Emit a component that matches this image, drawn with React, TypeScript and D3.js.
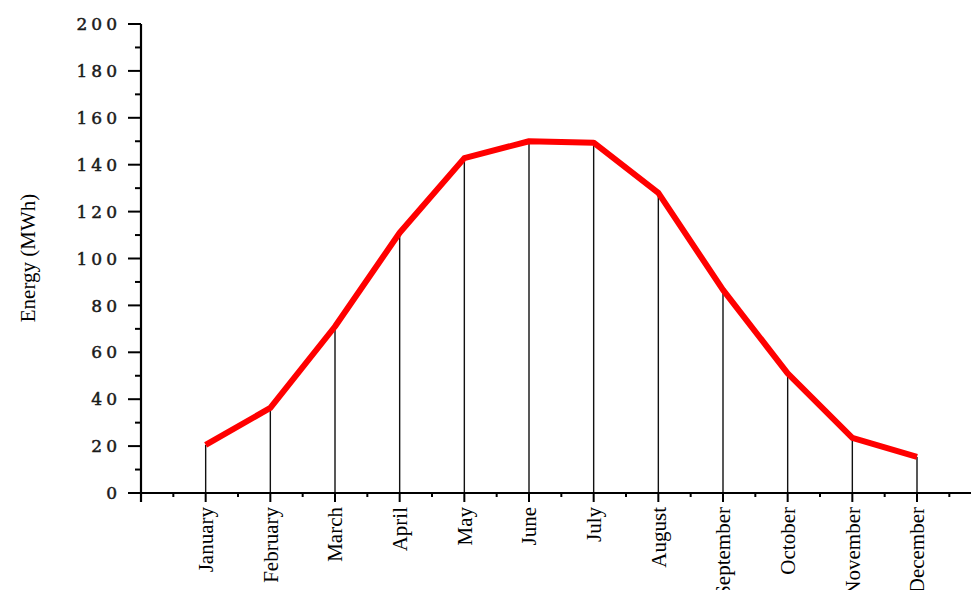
import React from "react";
import * as d3 from "d3";

const months = [
  "January", "February", "March", "April", "May", "June",
  "July", "August", "September", "October", "November", "December",
];
const energy = [20.5, 36.3, 71, 111, 142.8, 150, 149.4, 128, 86.6, 51, 23.5, 15.4];
const yMajorTicks = [0, 20, 40, 60, 80, 100, 120, 140, 160, 180, 200];
const yMinorTicks = [10, 30, 50, 70, 90, 110, 130, 150, 170, 190];

const W = 971;
const H = 590;
const axisX = 141;
const axisY = 493;

export default function App() {
  const x = d3.scaleLinear().domain([0, 12]).range([axisX, 917]);
  const y = d3.scaleLinear().domain([0, 200]).range([axisY, 24]);

  const line = d3
    .line<number>()
    .x((_, i) => x(i + 1))
    .y((d) => y(d));

  const xMajor = d3.range(0, 13);
  const xMinor = d3.range(0.5, 13, 1);

  return (
    <svg
      width={W}
      height={H}
      style={{ position: "absolute", left: 0, top: 0, background: "#fff" }}
    >
      {/* drop lines from each monthly value to the axis */}
      {energy.map((v, i) => (
        <line
          key={"drop" + i}
          x1={x(i + 1)}
          x2={x(i + 1)}
          y1={y(v)}
          y2={axisY}
          stroke="#111"
          strokeWidth={1.4}
        />
      ))}

      <path
        d={line(energy) || ""}
        fill="none"
        stroke="#ff0000"
        strokeWidth={6}
        strokeLinejoin="round"
      />

      {/* y axis */}
      <line x1={axisX} x2={axisX} y1={y(200)} y2={axisY + 9} stroke="#000" strokeWidth={2.2} />
      {yMajorTicks.map((t) => (
        <g key={"ym" + t}>
          <line x1={axisX - 13} x2={axisX} y1={y(t)} y2={y(t)} stroke="#000" strokeWidth={2} />
          <text
            x={axisX - 20}
            y={y(t)}
            dy="0.36em"
            textAnchor="end"
            fontFamily="'DejaVu Serif', serif"
            fontSize={17}
            letterSpacing={4}
            fill="#1a1a1a"
            stroke="#1a1a1a"
            strokeWidth={0.5}
          >
            {t}
          </text>
        </g>
      ))}
      {yMinorTicks.map((t) => (
        <line key={"yn" + t} x1={axisX - 6} x2={axisX} y1={y(t)} y2={y(t)} stroke="#000" strokeWidth={2} />
      ))}

      {/* x axis */}
      <line x1={axisX - 1} x2={W} y1={axisY} y2={axisY} stroke="#000" strokeWidth={2.2} />
      {xMajor.map((t) => (
        <line key={"xm" + t} x1={x(t)} x2={x(t)} y1={axisY} y2={axisY + 9} stroke="#000" strokeWidth={2} />
      ))}
      {xMinor.map((t) => (
        <line key={"xn" + t} x1={x(t)} x2={x(t)} y1={axisY} y2={axisY + 4} stroke="#000" strokeWidth={2} />
      ))}
      {months.map((m, i) => (
        <text
          key={m}
          transform={`translate(${x(i + 1)},${axisY + 14}) rotate(-90)`}
          dy="0.35em"
          textAnchor="end"
          fontFamily="'Liberation Serif', 'Times New Roman', serif"
          fontSize={21}
          fill="#000"
        >
          {m}
        </text>
      ))}

      <text
        transform="translate(28,258) rotate(-90)"
        dy="0.35em"
        textAnchor="middle"
        fontFamily="'Liberation Serif', 'Times New Roman', serif"
        fontSize={21}
        fill="#000"
      >
        Energy (MWh)
      </text>
    </svg>
  );
}
